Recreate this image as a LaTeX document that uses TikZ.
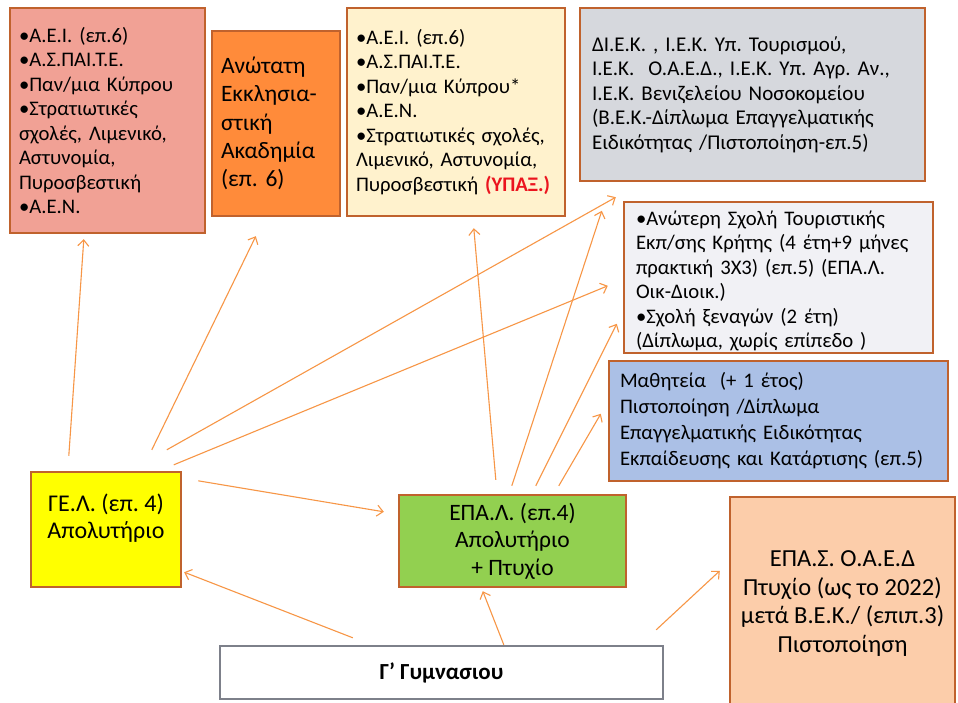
\documentclass[tikz,border=0pt]{standalone}
\usepackage{fontspec}
\setmainfont{Carlito}
\usetikzlibrary{arrows.meta,calc}
\frenchspacing
\definecolor{bord}{RGB}{192,98,45}
\definecolor{arrc}{RGB}{247,150,70}
\definecolor{fpink}{RGB}{241,161,149}
\definecolor{forange}{RGB}{255,139,58}
\definecolor{fcream}{RGB}{255,242,205}
\definecolor{fgray}{RGB}{214,216,221}
\definecolor{flight}{RGB}{241,241,245}
\definecolor{fblue}{RGB}{171,192,230}
\definecolor{fyellow}{RGB}{255,255,0}
\definecolor{fgreen}{RGB}{146,208,80}
\definecolor{fpeach}{RGB}{252,205,170}
\definecolor{gymb}{RGB}{125,128,138}
\definecolor{ured}{RGB}{235,20,30}
\begin{document}
\begin{tikzpicture}[x=1pt,y=-1pt,
  box/.style={draw=bord,line width=2.4pt,inner sep=0pt,align=left,
    font=\frenchspacing\fontsize{20.7}{24.5}\selectfont},
  ctr/.style={draw=bord,line width=2.4pt,inner sep=0pt,align=center,
    font=\frenchspacing\fontsize{24}{28}\selectfont},
  arr/.style={draw=arrc,line width=1.1pt,-{Straight Barb[length=6pt,width=11pt,line width=1.1pt]}}]
\useasboundingbox (0,0) rectangle (958,703);
\fill[white] (0,0) rectangle (958,703);

\node[box,fill=fpink,minimum width=195pt,minimum height=225pt,text width=177pt] (a) at (107.5,120.5)
 {•Α.Ε.Ι. (επ.6)\\•Α.Σ.ΠΑΙ.Τ.Ε.\\•Παν/μια Κύπρου\\•Στρατιωτικές\\σχολές, Λιμενικό,\\Αστυνομία,\\Πυροσβεστική\\•Α.Ε.Ν.};

\node[box,fill=forange,minimum width=128pt,minimum height=185pt,text width=110pt,
  font=\frenchspacing\fontsize{23.5}{28.3}\selectfont] (b) at (276,123.5)
 {Ανώτατη\\Εκκλησια-\\στική\\Ακαδημία\\(επ. 6)};

\node[box,fill=fcream,minimum width=218pt,minimum height=208pt,text width=200pt] (c) at (456,112)
 {•Α.Ε.Ι. (επ.6)\\•Α.Σ.ΠΑΙ.Τ.Ε.\\•Παν/μια Κύπρου*\\•Α.Ε.Ν.\\•Στρατιωτικές σχολές,\\Λιμενικό, Αστυνομία,\\Πυροσβεστική {\color{ured}\bfseries(ΥΠΑΞ.)}};

\node[box,fill=fgray,minimum width=345pt,minimum height=173pt,text width=321pt,
  font=\frenchspacing\fontsize{21}{24.5}\selectfont] (d) at (752.5,94.5)
 {ΔΙ.Ε.Κ. , Ι.Ε.Κ. Υπ. Τουρισμού,\\Ι.Ε.Κ.\ \ Ο.Α.Ε.Δ., Ι.Ε.Κ. Υπ. Αγρ. Αν.,\\Ι.Ε.Κ. Βενιζελείου Νοσοκομείου\\(Β.Ε.Κ.-Δίπλωμα Επαγγελματικής\\Ειδικότητας /Πιστοποίηση-επ.5)};

\node[box,fill=flight,minimum width=309pt,minimum height=151pt,text width=285pt] (e) at (778.5,277.5)
 {\rule{0pt}{21pt}•Ανώτερη Σχολή Τουριστικής\\Εκπ/σης Κρήτης (4 έτη+9 μήνες\\πρακτική 3Χ3) (επ.5) (ΕΠΑ.Λ.\\Οικ-Διοικ.)\\•Σχολή ξεναγών (2 έτη)\\(Δίπλωμα, χωρίς επίπεδο )};

\node[box,fill=fblue,minimum width=339pt,minimum height=120pt,text width=317pt,
  font=\frenchspacing\fontsize{20.7}{26}\selectfont] (f) at (778.5,421)
 {Μαθητεία\ \ (+ 1 έτος)\\Πιστοποίηση /Δίπλωμα\\Επαγγελματικής Ειδικότητας\\Εκπαίδευσης και Κατάρτισης (επ.5)};

\node[ctr,fill=fyellow,minimum width=150pt,minimum height=115pt,
  font=\frenchspacing\fontsize{24}{27}\selectfont] (gel) at (106,529.5)
 {\parbox[c][109pt][t]{144pt}{\centering\vspace*{19pt}ΓΕ.Λ. (επ. 4)\\Απολυτήριο}};

\node[ctr,fill=fgreen,minimum width=227pt,minimum height=92pt,
  font=\frenchspacing\fontsize{23.5}{27.5}\selectfont] (epal) at (512.5,541)
 {ΕΠΑ.Λ. (επ.4)\\Απολυτήριο\\+ Πτυχίο};

\node[ctr,fill=fpeach,minimum width=225pt,minimum height=213pt,
  font=\frenchspacing\fontsize{24.5}{28.5}\selectfont] (epas) at (842.5,603.5)
 {ΕΠΑ.Σ. Ο.Α.Ε.Δ\\Πτυχίο (ως το 2022)\\μετά Β.Ε.Κ./ (επιπ.3)\\Πιστοποίηση};

\node[draw=gymb,fill=white,line width=2.4pt,minimum width=443pt,minimum height=53pt,
  font=\fontsize{23}{26}\selectfont\bfseries] (gym) at (441.5,672.5) {Γ’ Γυμνασιου};

\draw[arr] ($(gel.north west)+(39,-15)$) -- ($(a.south west)+(75,5)$);
\draw[arr] ($(gel.north west)+(122,-21)$) -- ($(b.south west)+(45,19)$);
\draw[arr] ($(gel.north west)+(137,-21)$) -- ($(d.south west)+(37,15)$);
\draw[arr] ($(gel.north west)+(144,-6)$) -- ($(e.north west)+(-15,85)$);
\draw[arr] ($(gel.north east)+(16,10)$) -- ($(epal.north west)+(-14,18)$);
\draw[arr] ($(epal.north west)+(98,-14)$) -- ($(c.south west)+(128,11)$);
\draw[arr] ($(epal.north west)+(114,-8)$) -- ($(e.north west)+(-21,10)$);
\draw[arr] ($(epal.north west)+(138,-8)$) -- ($(e.north west)+(-6,123)$);
\draw[arr] ($(epal.north west)+(161,-8)$) -- ($(f.north west)+(-7,54)$);
\draw[arr] ($(gym.north west)+(134,-7)$) -- ($(gel.south east)+(2,-16)$);
\draw[arr] ($(gym.north west)+(285,0)$) -- ($(epal.south west)+(85,3)$);
\draw[arr] ($(gym.north east)+(-8,-15)$) -- ($(epas.north west)+(-9,75)$);
\end{tikzpicture}
\end{document}
